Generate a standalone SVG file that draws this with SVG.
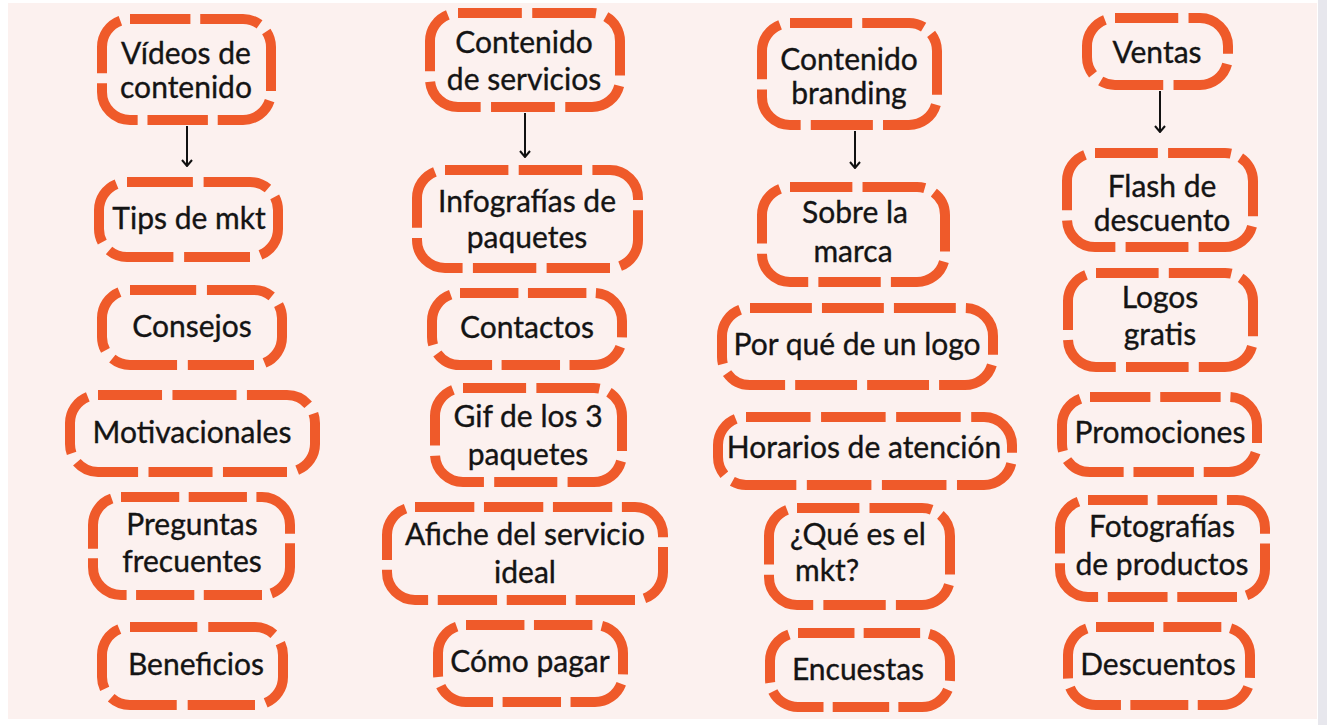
<svg xmlns="http://www.w3.org/2000/svg" width="1327" height="725" viewBox="0 0 1327 725">
<defs>
<style>
.box{fill:none;stroke:#ef5a2a;stroke-width:10;stroke-dasharray:0.86 0.14}
.t{font-family:Lato,"Open Sans","Liberation Sans",sans-serif;font-size:30px;font-weight:400;fill:#141414;stroke:#141414;stroke-width:0.35;text-anchor:middle}
.tl{text-anchor:start}
.arrow{stroke:#111;stroke-width:2;fill:none}
</style>
<marker id="ah" viewBox="0 0 12 12" refX="11" refY="6" markerWidth="12" markerHeight="12" markerUnits="userSpaceOnUse" orient="auto">
<path d="M5,1 L11,6 L5,11" fill="none" stroke="#111" stroke-width="2"/>
</marker>
</defs>
<rect x="0" y="0" width="1327" height="725" fill="#ffffff"/>
<rect x="8" y="3" width="1309" height="716" fill="#fcf1ef"/>
<rect x="1318" y="0" width="9" height="725" fill="#e7e7ed"/>

<g id="connectors">
<line class="arrow" x1="187" y1="126" x2="187" y2="166" marker-end="url(#ah)"/>
<line class="arrow" x1="525" y1="113" x2="525" y2="157" marker-end="url(#ah)"/>
<line class="arrow" x1="855" y1="131" x2="855" y2="168" marker-end="url(#ah)"/>
<line class="arrow" x1="1160" y1="91" x2="1160" y2="132" marker-end="url(#ah)"/>
</g>

<g id="n-videos"><rect class="box" x="102" y="19" width="169" height="101" rx="28" pathLength="7"/><text class="t" x="186" y="64">Vídeos de</text><text class="t" x="186" y="98">contenido</text></g>
<g id="n-tips"><rect class="box" x="99" y="182" width="179" height="75" rx="28" pathLength="6"/><text class="t" x="189" y="229">Tips de mkt</text></g>
<g id="n-consejos"><rect class="box" x="102" y="290" width="180" height="75" rx="28" pathLength="6"/><text class="t" x="192" y="337">Consejos</text></g>
<g id="n-motivacionales"><rect class="box" x="70" y="395" width="245" height="77" rx="28" pathLength="8"/><text class="t" x="192" y="443">Motivacionales</text></g>
<g id="n-preguntas"><rect class="box" x="93" y="497" width="197" height="98" rx="28" pathLength="8"/><text class="t" x="192" y="535">Preguntas</text><text class="t" x="192" y="572">frecuentes</text></g>
<g id="n-beneficios"><rect class="box" x="102" y="627" width="181" height="78" rx="28" pathLength="6"/><text class="t" x="196" y="675">Beneficios</text></g>

<g id="n-servicios"><rect class="box" x="430" y="13" width="190" height="94" rx="28" pathLength="7"/><text class="t" x="524" y="53">Contenido</text><text class="t" x="524" y="90">de servicios</text></g>
<g id="n-infografias"><rect class="box" x="417" y="170" width="221" height="98" rx="28" pathLength="8"/><text class="t" x="527" y="212">Infografías de</text><text class="t" x="527" y="248">paquetes</text></g>
<g id="n-contactos"><rect class="box" x="432" y="293" width="190" height="72" rx="28" pathLength="7"/><text class="t" x="527" y="338">Contactos</text></g>
<g id="n-gif"><rect class="box" x="435" y="388" width="187" height="94" rx="28" pathLength="7"/><text class="t" x="528" y="427">Gif de los 3</text><text class="t" x="528" y="465">paquetes</text></g>
<g id="n-afiche"><rect class="box" x="387" y="507" width="276" height="93" rx="28" pathLength="10"/><text class="t" x="525" y="545">Afiche del servicio</text><text class="t" x="525" y="583">ideal</text></g>
<g id="n-pagar"><rect class="box" x="438" y="625" width="185" height="77" rx="28" pathLength="7"/><text class="t" x="530" y="672">Cómo pagar</text></g>

<g id="n-branding"><rect class="box" x="762" y="23" width="175" height="102" rx="28" pathLength="7"/><text class="t" x="849" y="70">Contenido</text><text class="t" x="849" y="104">branding</text></g>
<g id="n-marca"><rect class="box" x="762" y="187" width="183" height="95" rx="28" pathLength="7"/><text class="t" x="855" y="223">Sobre la</text><text class="t" x="853" y="262">marca</text></g>
<g id="n-logo"><rect class="box" x="722" y="308" width="271" height="77" rx="28" pathLength="9"/><text class="t" x="857" y="355">Por qué de un logo</text></g>
<g id="n-horarios"><rect class="box" x="718" y="417" width="294" height="68" rx="28" pathLength="9"/><text class="t" x="864" y="458">Horarios de atención</text></g>
<g id="n-mkt"><rect class="box" x="769" y="508" width="181" height="97" rx="28" pathLength="7"/><text class="t tl" x="790" y="545">¿Qué es el</text><text class="t tl" x="795" y="581">mkt?</text></g>
<g id="n-encuestas"><rect class="box" x="770" y="633" width="180" height="74" rx="28" pathLength="7"/><text class="t" x="858" y="680">Encuestas</text></g>

<g id="n-ventas"><rect class="box" x="1087" y="18" width="141" height="67" rx="28" pathLength="5"/><text class="t" x="1157" y="63">Ventas</text></g>
<g id="n-flash"><rect class="box" x="1067" y="153" width="186" height="94" rx="28" pathLength="7"/><text class="t" x="1162" y="197">Flash de</text><text class="t" x="1162" y="231">descuento</text></g>
<g id="n-logos"><rect class="box" x="1068" y="273" width="185" height="94" rx="28" pathLength="7"/><text class="t" x="1160" y="308">Logos</text><text class="t" x="1160" y="345">gratis</text></g>
<g id="n-promociones"><rect class="box" x="1062" y="397" width="195" height="75" rx="28" pathLength="7"/><text class="t" x="1160" y="443">Promociones</text></g>
<g id="n-fotografias"><rect class="box" x="1060" y="500" width="205" height="97" rx="28" pathLength="8"/><text class="t" x="1162" y="537">Fotografías</text><text class="t" x="1162" y="575">de productos</text></g>
<g id="n-descuentos"><rect class="box" x="1068" y="627" width="182" height="78" rx="28" pathLength="7"/><text class="t" x="1158" y="675">Descuentos</text></g>
</svg>
